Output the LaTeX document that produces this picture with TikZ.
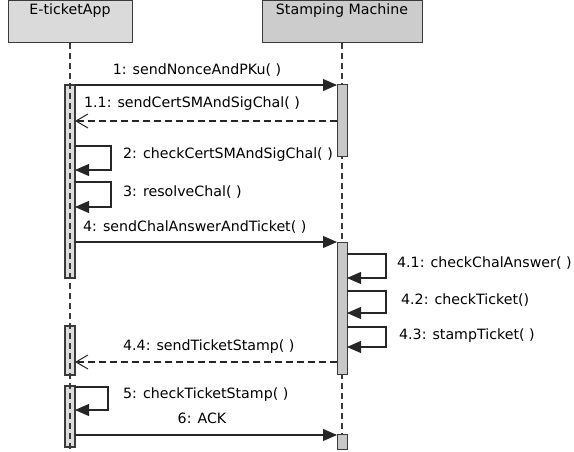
\documentclass[tikz,border=0pt]{standalone}
\usepackage{fontspec}
\setmainfont{DejaVu Sans}
\usetikzlibrary{arrows.meta}
\definecolor{headA}{HTML}{DADADA}
\definecolor{headB}{HTML}{CCCCCC}
\definecolor{barA}{HTML}{DCDCDC}
\definecolor{barB}{HTML}{C8C8C8}
\definecolor{edge}{HTML}{3A3A3A}
\tikzset{
  lbl/.style={font=\fontsize{14.2}{16}\selectfont, inner sep=0pt},
  head/.style={draw=edge, line width=1pt, minimum height=42pt, inner sep=0pt},
  lifeline/.style={draw=edge, line width=1.2pt, dash pattern=on 6pt off 4pt},
  barL/.style={draw=edge, line width=1.3pt, fill=barA},
  barR/.style={draw=edge, line width=1pt, fill=barB},
  call/.style={draw=black!85, line width=1.1pt, -{Triangle[length=14pt,width=12pt]}},
  reply/.style={draw=black!85, line width=1.1pt, dash pattern=on 7pt off 4pt, -{Straight Barb[length=12pt,width=14pt,line width=1pt]}},
}
\begin{document}
\begin{tikzpicture}[x=1pt,y=-1pt]
\useasboundingbox (0,0) rectangle (574,452);

% participant heads
\draw[head, fill=headA] (8,1) rectangle (132,43);
\draw[head, fill=headB] (262,1) rectangle (422,43);
\node[lbl] (appname) at (70,11) {E-ticketApp};
\node[lbl] (smname) at (342,11) {Stamping Machine};

% lifeline end points
\coordinate (appTop) at (70,43);
\coordinate (appBot) at (70,452);
\coordinate (smTop) at (342,43);
\coordinate (smBot) at (342,452);
\draw[lifeline] (smTop) -- (smBot);

% activation bars of the stamping machine
\draw[barR] (337,85) rectangle (347,157);
\draw[barR] (337,242) rectangle (347,374);
\draw[barR] (337,434) rectangle (347,449);

% activation bars of the app (lifeline shows through)
\draw[barL] (65,85) rectangle (75,278);
\draw[barL] (65,326) rectangle (75,375);
\draw[barL] (65,386) rectangle (75,447);
\draw[lifeline] (appTop) -- (appBot);

% message end points
\coordinate (a1) at (75,85);   \coordinate (s1) at (337,85);
\coordinate (s11) at (337,121); \coordinate (a11) at (75,121);
\coordinate (a4) at (75,242);  \coordinate (s4) at (337,242);
\coordinate (s44) at (337,362); \coordinate (a44) at (75,362);
\coordinate (a6) at (75,435);  \coordinate (s6) at (337,435);

% messages between participants
\draw[call] (a1) -- (s1);
\node[lbl] (m1) at (197,70) {1: sendNonceAndPKu( )};
\draw[reply] (s11) -- (a11);
\node[lbl, anchor=west] (m11) at (84,104) {1.1: sendCertSMAndSigChal( )};
\draw[call] (a4) -- (s4);
\node[lbl, anchor=west] (m4) at (83,227) {4: sendChalAnswerAndTicket( )};
\draw[reply] (s44) -- (a44);
\node[lbl, anchor=west] (m44) at (123,347) {4.4: sendTicketStamp( )};
\draw[call] (a6) -- (s6);
\node[lbl] (m6) at (202,418) {6: ACK};

% self calls of the app
\draw[call] (75,146) -- (111,146) -- (111,170) -- (75,170);
\node[lbl, anchor=west] (m2) at (123,155) {2: checkCertSMAndSigChal( )};
\draw[call] (75,182) -- (111,182) -- (111,207) -- (75,207);
\node[lbl, anchor=west] (m3) at (123,192) {3: resolveChal( )};
\draw[call] (75,387) -- (108,387) -- (108,410) -- (75,410);
\node[lbl, anchor=west] (m5) at (123,395) {5: checkTicketStamp( )};

% self calls of the stamping machine
\draw[call] (347,254) -- (386,254) -- (386,278) -- (347,278);
\node[lbl, anchor=west] (m41) at (397,263) {4.1: checkChalAnswer( )};
\draw[call] (347,291) -- (386,291) -- (386,313) -- (347,313);
\node[lbl, anchor=west] (m42) at (401,300) {4.2: checkTicket()};
\draw[call] (347,327) -- (386,327) -- (386,347) -- (347,347);
\node[lbl, anchor=west] (m43) at (399,336) {4.3: stampTicket( )};
\end{tikzpicture}
\end{document}
